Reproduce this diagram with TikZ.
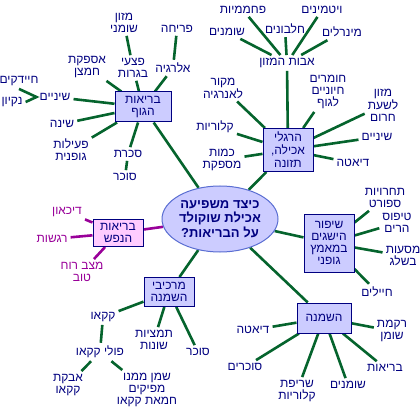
\documentclass[tikz,border=0pt]{standalone}
\usepackage{fontspec}
\TeXXeTstate=1
\newfontfamily\heb[Script=Hebrew]{Liberation Sans}
\newcommand{\hb}[1]{\beginR #1\endR}
\usetikzlibrary{shapes.geometric}
\definecolor{navy}{RGB}{0,0,128}
\definecolor{grn}{RGB}{5,100,45}
\definecolor{mag}{RGB}{153,0,153}
\definecolor{boxfill}{RGB}{204,204,255}
\definecolor{pinkfill}{RGB}{255,204,255}
\definecolor{ellline}{RGB}{90,110,210}
\pgfdeclarelayer{back}\pgfdeclarelayer{bg}\pgfsetlayers{back,bg,main}
\tikzset{
  lbl/.style={text=navy, font=\heb\fontsize{12}{12}\selectfont, align=center, inner sep=3pt},
  mlbl/.style={lbl, text=mag},
  topic/.style={lbl, draw=navy, line width=1pt, fill=boxfill, inner sep=2pt},
  ptopic/.style={topic, fill=pinkfill},
  conn/.style={draw=grn, line width=2.6pt},
  mconn/.style={draw=mag, line width=2.6pt},
}
\begin{document}
\begin{tikzpicture}[x=1pt,y=-1pt]
\useasboundingbox (0,0) rectangle (420,414);
\begin{pgfonlayer}{back}
\fill[white] (0,0) rectangle (420,414);
\end{pgfonlayer}

% central question
\node[ellipse, draw=ellline, line width=1pt, fill=boxfill, minimum width=116pt, minimum height=66pt, inner sep=0pt,
  text=navy, align=center, font=\heb\bfseries\fontsize{13}{14.5}\selectfont] (q) at (220,219)
  {\hb{כיצד משפיעה}\\\hb{אכילת שוקולד}\\\hb{על הבריאות?}};

% ---- body health
\node[topic, minimum width=56pt, minimum height=30pt] (bg) at (143,107) {\hb{בריאות}\\\hb{הגוף}};
\node[lbl] (mazon) at (124,23) {\hb{מזון}\\\hb{שומני}};
\node[lbl] (pzaei) at (133,68) {\hb{פצעי}\\\hb{בגרות}};
\node[lbl] (pricha) at (177,29) {\hb{פריחה}};
\node[lbl] (alerg) at (173,68) {\hb{אלרגיה}};
\node[lbl] (aspak) at (87,67) {\hb{אספקת}\\\hb{חמצן}};
\node[lbl] (shin1) at (55,97) {\hb{שיניים}};
\node[lbl] (hid) at (19,81) {\hb{חיידקים}};
\node[lbl] (nik) at (12,102) {\hb{נקיון}};
\node[lbl] (shena) at (62,124) {\hb{שינה}};
\node[lbl] (peil) at (71,150) {\hb{פעילות}\\\hb{גופנית}};
\node[lbl] (sakeret) at (128,154) {\hb{סכרת}};
\node[lbl] (sukar1) at (125,177) {\hb{סוכר}};

% ---- eating habits
\node[topic, minimum width=50pt, minimum height=43pt, font=\heb\fontsize{12}{13}\selectfont] (hr) at (288,150) {\hb{הרגלי}\\\hb{אכילה,}\\\hb{תזונה}};
\node[lbl] (avot) at (287,63) {\hb{אבות המזון}};
\node[lbl] (pahm) at (243,10) {\hb{פחממיות}};
\node[lbl] (shum1) at (227,32) {\hb{שומנים}};
\node[lbl] (halb) at (285,29) {\hb{חלבונים}};
\node[lbl] (vit) at (322,10) {\hb{ויטמינים}};
\node[lbl] (miner) at (342,32) {\hb{מינרלים}};
\node[lbl] (makor) at (223,88) {\hb{מקור}\\\hb{לאנרגיה}};
\node[lbl] (homar) at (328,92) {\hb{חומרים}\\\hb{חיוניים}\\\hb{לגוף}};
\node[lbl] (mazon2) at (383,105) {\hb{מזון}\\\hb{לשעת}\\\hb{חרום}};
\node[lbl] (kal1) at (215,127) {\hb{קלוריות}};
\node[lbl] (shin2) at (377,137) {\hb{שיניים}};
\node[lbl] (kamut) at (222,160) {\hb{כמות}\\\hb{מספקת}};
\node[lbl] (diet1) at (353,163) {\hb{דיאטה}};

% ---- physical achievements
\node[topic, minimum width=50pt, minimum height=58pt] (ship) at (329,243) {\hb{שיפור}\\\hb{הישגים}\\\hb{במאמץ}\\\hb{גופני}};
\node[lbl] (tahar) at (385,198) {\hb{תחרויות}\\\hb{ספורט}};
\node[lbl] (tipus) at (397,223) {\hb{טיפוס}\\\hb{הרים}};
\node[lbl] (masaot) at (403,256) {\hb{מסעות}\\\hb{בשלג}};
\node[lbl] (hayal) at (377,292) {\hb{חיילים}};

% ---- obesity
\node[topic, minimum width=54pt, minimum height=30pt] (hashm) at (324,318) {\hb{השמנה}};
\node[lbl] (diet2) at (253,330) {\hb{דיאטה}};
\node[lbl] (sukarim) at (245,367) {\hb{סוכרים}};
\node[lbl] (sref) at (297,391) {\hb{שריפת}\\\hb{קלוריות}};
\node[lbl] (shum2) at (348,385) {\hb{שומנים}};
\node[lbl] (briut) at (385,368) {\hb{בריאות}};
\node[lbl] (rikma) at (392,331) {\hb{רקמת}\\\hb{שומן}};

% ---- components of obesity
\node[topic, minimum width=50pt, minimum height=29pt] (mark) at (169,292) {\hb{מרכיבי}\\\hb{השמנה}};
\node[lbl] (kakao) at (103,317) {\hb{קקאו}};
\node[lbl] (poli) at (100,352) {\hb{פולי קקאו}};
\node[lbl] (avkat) at (68,385) {\hb{אבקת}\\\hb{קקאו}};
\node[lbl] (shemen) at (147,390) {\hb{שמן ממנו}\\\hb{מפיקים}\\\hb{חמאת קקאו}};
\node[lbl] (tamz) at (154,340) {\hb{תמציות}\\\hb{שונות}};
\node[lbl] (sukar2) at (198,352) {\hb{סוכר}};

% ---- mental health
\node[ptopic, minimum width=50pt, minimum height=27pt] (nefesh) at (118,233) {\hb{בריאות}\\\hb{הנפש}};
\node[mlbl] (dik) at (67,212) {\hb{דיכאון}};
\node[mlbl] (reg) at (52,239) {\hb{רגשות}};
\node[mlbl] (matz) at (82,272) {\hb{מצב רוח}\\\hb{טוב}};

\begin{pgfonlayer}{bg}
% body health
\draw[conn] (q) -- (bg);
\draw[conn] (bg) -- (pzaei) -- (mazon);
\draw[conn] (bg) -- (alerg) -- (pricha);
\draw[conn] (bg) -- (aspak);
\draw[conn] (bg) -- (shin1);
\draw[conn] (hid.south) -- (shin1.west) -- (nik.east);
\draw[conn] (bg) -- (shena);
\draw[conn] (bg) -- (peil);
\draw[conn] (bg) -- (sakeret);
\draw[conn] (sakeret) -- (sukar1);
% eating habits
\draw[conn] (q) -- (hr);
\draw[conn] (hr) -- (avot);
\foreach \n in {pahm,shum1,halb,vit,miner} \draw[conn] (avot) -- (\n);
\foreach \n in {makor,homar,mazon2,kal1,shin2,kamut,diet1} \draw[conn] (hr) -- (\n);
% achievements
\draw[conn] (q) -- (ship);
\foreach \n in {tahar,tipus,masaot,hayal} \draw[conn] (ship) -- (\n);
% obesity
\draw[conn] (q) -- (hashm);
\foreach \n in {diet2,sukarim,sref,shum2,briut,rikma} \draw[conn] (hashm) -- (\n);
% components
\draw[conn] (q) -- (mark);
\draw[conn] (mark) -- (kakao);
\draw[conn] (kakao) -- (poli);
\draw[conn] (poli) -- (avkat);
\draw[conn] (poli) -- (shemen);
\draw[conn] (mark) -- (tamz);
\draw[conn] (mark) -- (sukar2);
% mental health
\draw[mconn] (q) -- (nefesh);
\foreach \n in {dik,reg,matz} \draw[mconn] (nefesh) -- (\n);
\end{pgfonlayer}
\end{tikzpicture}
\end{document}
